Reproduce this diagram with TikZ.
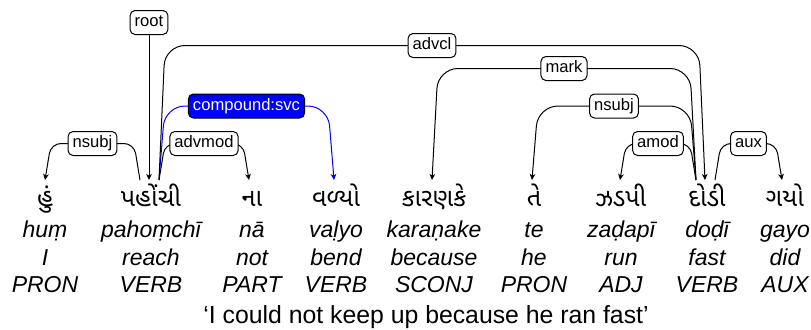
\documentclass[tikz,border=0pt]{standalone}
\usepackage{fontspec}
\setmainfont{Liberation Sans}
\newfontfamily\guj[Script=Gujarati]{Noto Sans Gujarati UI}
\usetikzlibrary{arrows.meta,backgrounds,calc}
\definecolor{svcblue}{RGB}{0,0,255}
\begin{document}
\begin{tikzpicture}[x=0.5pt,y=-0.5pt,
  lab/.style={draw=black, fill=white, rounded corners=2.5pt, line width=0.5pt,
    inner xsep=2.3pt, inner ysep=0pt, minimum height=12pt,
    font=\fontsize{8.3}{10}\selectfont, text height=6.3pt, text depth=1.9pt},
  bluelab/.style={lab, fill=svcblue, text=white},
  arc/.style={line width=0.5pt, -{Stealth[length=3pt,width=2.8pt,inset=0.8pt]}},
  lowarc/.style={arc, rounded corners=5pt},
  higharc/.style={arc, rounded corners=10pt},
  gw/.style={anchor=base, inner sep=0pt, font=\guj\fontsize{12.6}{15}\selectfont},
  tw/.style={anchor=base, inner sep=0pt, font=\fontsize{11.5}{14}\selectfont\itshape},
  tr/.style={anchor=base, inner sep=0pt, font=\fontsize{12.4}{15}\selectfont}]
\useasboundingbox (0,0) rectangle (811,329);

% word columns
\foreach \i/\x/\g/\t/\e/\p in {
  1/45/હું/huṃ/I/PRON,
  2/151/પહોંચી/pahoṃchī/reach/VERB,
  3/252/ના/nā/not/PART,
  4/336/વળ્યો/vaḷyo/bend/VERB,
  5/434/કારણકે/karaṇake/because/SCONJ,
  6/534/તે/te/he/PRON,
  7/621/ઝડપી/zaḍapī/run/ADJ,
  8/707/દોડી/doḍī/fast/VERB,
  9/785/ગયો/gayo/did/AUX}{
  \node[gw] (g\i) at (\x,206) {\g};
  \node[tw] (t\i) at (\x,237) {\t};
  \node[tw] (e\i) at (\x,265.5) {\e};
  \node[tw] (p\i) at (\x,292) {\p};
}
\node[tr] (trans) at (426,323) {‘I could not keep up because he ran fast’};

% edge end points
\coordinate (h2l) at (140,180);
\coordinate (h2m) at (149,180);
\coordinate (h2r) at (159,180);
\coordinate (h8l) at (696,180);
\coordinate (h8m) at (705,180);
\coordinate (h8r) at (715,180);
\coordinate (d1) at (45,180);
\coordinate (d3) at (249,180);
\coordinate (d4) at (334,180);
\coordinate (d5) at (432,180);
\coordinate (d6) at (532,180);
\coordinate (d7) at (620,180);
\coordinate (d9) at (782,180);

% labels
\node[lab] (root) at (149,22.5) {root};
\node[lab] (advcl) at (432,45.5) {advcl};
\node[lab] (mark) at (564,68.5) {mark};
\node[bluelab] (svc) at (246.5,106) {compound:svc};
\node[lab] (nsubjB) at (614,106) {nsubj};
\node[lab] (nsubjA) at (92.5,143.5) {nsubj};
\node[lab] (advmod) at (204,143.5) {advmod};
\node[lab] (amod) at (658,143.5) {amod};
\node[lab] (aux) at (748.5,143.5) {aux};

\begin{scope}[on background layer]
\draw[arc] (root) -- (h2m);
\draw[lowarc] (h2l) -- ($(h2l |- nsubjA)+(-6,0)$) -- ($(d1 |- nsubjA)+(6,0)$) -- (d1);
\draw[lowarc] (h2r) -- ($(h2r |- advmod)+(6,0)$) -- ($(d3 |- advmod)+(-6,0)$) -- (d3);
\draw[higharc, draw=svcblue] (h2r) -- ($(h2r |- svc)+(6,0)$) -- ($(d4 |- svc)+(-6,0)$) -- (d4);
\draw[higharc] (h2r) -- ($(h2r |- advcl)+(6,0)$) -- ($(h8m |- advcl)+(-6,0)$) -- (h8m);
\draw[higharc] (h8l) -- ($(h8l |- mark)+(-6,0)$) -- ($(d5 |- mark)+(6,0)$) -- (d5);
\draw[higharc] (h8l) -- ($(h8l |- nsubjB)+(-6,0)$) -- ($(d6 |- nsubjB)+(6,0)$) -- (d6);
\draw[lowarc] (h8l) -- ($(h8l |- amod)+(-6,0)$) -- ($(d7 |- amod)+(6,0)$) -- (d7);
\draw[lowarc] (h8r) -- ($(h8r |- aux)+(6,0)$) -- ($(d9 |- aux)+(-6,0)$) -- (d9);
\end{scope}
\end{tikzpicture}
\end{document}
